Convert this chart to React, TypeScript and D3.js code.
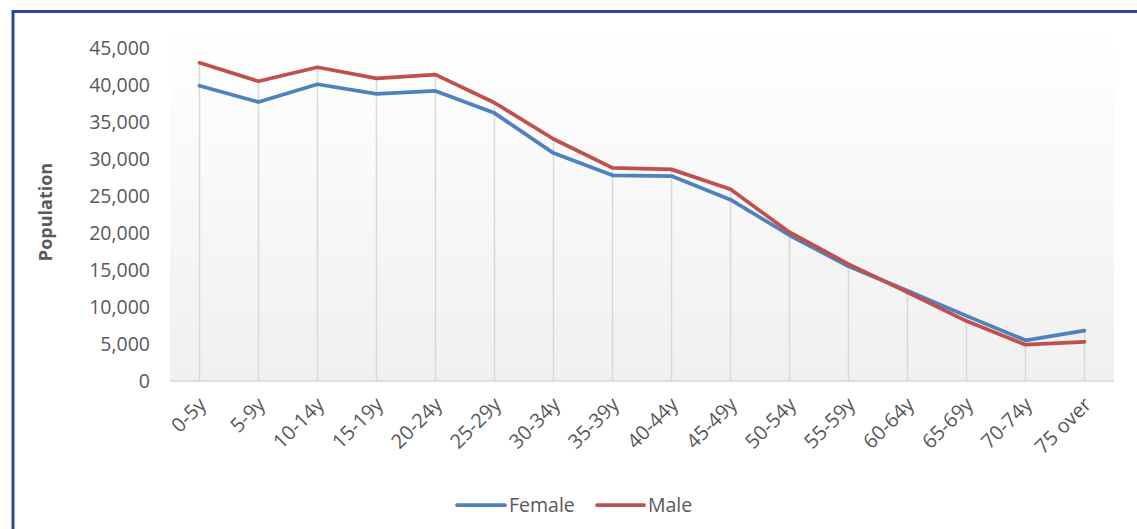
import React from "react";
import * as d3 from "d3";

const categories = ["0-5y", "5-9y", "10-14y", "15-19y", "20-24y", "25-29y", "30-34y", "35-39y", "40-44y", "45-49y", "50-54y", "55-59y", "60-64y", "65-69y", "70-74y", "75 over"];
const female = [39900, 37700, 40100, 38800, 39200, 36200, 30800, 27800, 27700, 24500, 19700, 15500, 12200, 8800, 5500, 6800];
const male = [43000, 40500, 42400, 40900, 41400, 37600, 32700, 28800, 28600, 25900, 20100, 15800, 12000, 8100, 4900, 5300];
const yTicks = [0, 5000, 10000, 15000, 20000, 25000, 30000, 35000, 40000, 45000];

const W = 1137;
const H = 529;
const FONT = "'Open Sans', 'Noto Sans', sans-serif";
const TXT = "#595959";
const FEMALE_C = "#4F81BD";
const MALE_C = "#C0504D";

export default function App() {
  const x = d3.scaleBand<string>().domain(categories).range([170, 1114]);
  const y = d3.scaleLinear().domain([0, 45000]).range([381, 48]);
  const cx = (c: string) => (x(c) as number) + x.bandwidth() / 2;
  const line = d3
    .line<number>()
    .x((_, i) => cx(categories[i]))
    .y((d) => y(d));
  const fmt = d3.format(",");

  return (
    <div style={{ position: "absolute", left: 0, top: 0 }}>
      <svg width={W} height={H} style={{ display: "block", background: "#fff" }}>
        <defs>
          <linearGradient id="bg" x1="0" y1="0" x2="0" y2="1">
            <stop offset="0" stopColor="#ffffff" />
            <stop offset="1" stopColor="#f0f0f0" />
          </linearGradient>
        </defs>
        <rect x={13} y={11.5} width={1300} height={700} fill="none" stroke="#2C4798" strokeWidth={3} />
        <rect x={170} y={30} width={944} height={351} fill="url(#bg)" />
        {categories.map((c, i) => (
          <line
            key={c}
            x1={cx(c)}
            x2={cx(c)}
            y1={y(Math.max(female[i], male[i]))}
            y2={y(0)}
            stroke="#d9d9d9"
            strokeWidth={1.5}
          />
        ))}
        <line x1={170} x2={1114} y1={y(0)} y2={y(0)} stroke="#d9d9d9" strokeWidth={1.5} />
        {yTicks.map((t) => (
          <text key={t} x={150} y={y(t)} dy="0.35em" textAnchor="end" fontFamily={FONT} fontSize={19.5} fill={TXT}>
            {fmt(t)}
          </text>
        ))}
        {categories.map((c) => (
          <text
            key={c}
            transform={`translate(${cx(c) + 3},${y(0) + 20}) rotate(-45)`}
            textAnchor="end"
            dy="0.35em"
            fontFamily={FONT}
            fontSize={20}
            fill={TXT}
          >
            {c}
          </text>
        ))}
        <text
          transform={`translate(46,212) rotate(-90)`}
          textAnchor="middle"
          dy="0.35em"
          fontFamily={FONT}
          fontWeight="bold"
          fontSize={18}
          fill={TXT}
        >
          Population
        </text>
        <path d={line(female) as string} fill="none" stroke={FEMALE_C} strokeWidth={3.75} strokeLinejoin="round" strokeLinecap="round" />
        <path d={line(male) as string} fill="none" stroke={MALE_C} strokeWidth={3.75} strokeLinejoin="round" strokeLinecap="round" />
        <line x1={457} x2={505} y1={505} y2={505} stroke={FEMALE_C} strokeWidth={3.75} strokeLinecap="round" />
        <text x={509} y={505} dy="0.35em" fontFamily={FONT} fontSize={19.5} fill={TXT}>
          Female
        </text>
        <line x1={597} x2={644} y1={505} y2={505} stroke={MALE_C} strokeWidth={3.75} strokeLinecap="round" />
        <text x={648} y={505} dy="0.35em" fontFamily={FONT} fontSize={19.5} fill={TXT}>
          Male
        </text>
      </svg>
    </div>
  );
}
